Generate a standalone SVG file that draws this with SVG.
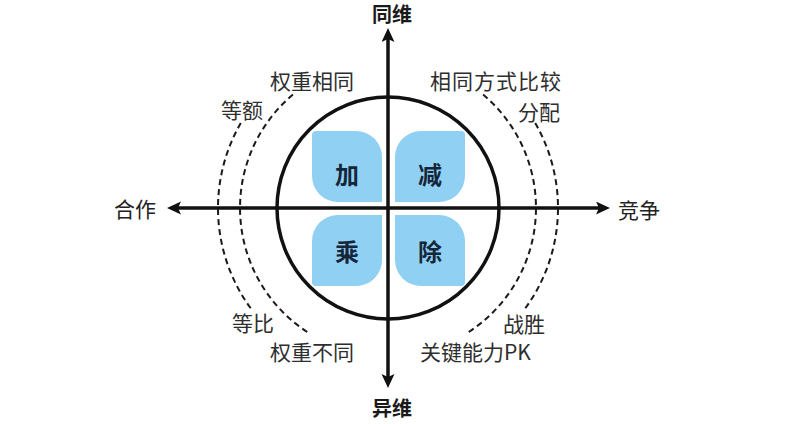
<svg xmlns="http://www.w3.org/2000/svg" width="800" height="424" viewBox="0 0 800 424">
<style>
.lbl{font-family:"Noto Sans CJK SC","Noto Sans",sans-serif;font-size:21px;fill:#2e2e2e}
.ax{font-family:"Noto Sans CJK SC","Noto Sans",sans-serif;font-size:20px;fill:#1a1a1a;font-weight:bold;text-anchor:middle}
.side{font-family:"Noto Sans CJK SC","Noto Sans",sans-serif;font-size:21px;fill:#222;text-anchor:middle}
.op{font-family:"Noto Sans CJK SC","Noto Sans",sans-serif;font-size:24px;fill:#15263a;font-weight:bold;text-anchor:middle}
.blk{fill:#90d1f3}
.axis{stroke:#111;stroke-width:3.5;fill:none}
.dash{stroke:#1a1a1a;stroke-width:2;fill:none;stroke-dasharray:6 4}
</style>
<defs>
<marker id="ah" markerUnits="userSpaceOnUse" markerWidth="16" markerHeight="14" refX="8" refY="6.5" orient="auto-start-reverse" viewBox="0 0 16 14">
<path d="M0,0 L14,6.5 L0,13 L3,6.5 Z" fill="#111"/>
</marker>
</defs>
<rect width="800" height="424" fill="#ffffff"/>
<g id="quad-add"><path class="blk" d="M316 131 H356 A26 26 0 0 1 382 157 V202 H338 A26 26 0 0 1 312 176 V135 A4 4 0 0 1 316 131 Z"/><text class="op" x="347" y="184">加</text></g>
<g id="quad-sub"><path class="blk" d="M421 131 H461 A4 4 0 0 1 465 135 V176 A26 26 0 0 1 439 202 H395 V157 A26 26 0 0 1 421 131 Z"/><text class="op" x="430" y="184">减</text></g>
<g id="quad-mul"><path class="blk" d="M338 215 H382 V260 A26 26 0 0 1 356 286 H316 A4 4 0 0 1 312 282 V241 A26 26 0 0 1 338 215 Z"/><text class="op" x="347" y="261">乘</text></g>
<g id="quad-div"><path class="blk" d="M395 215 H439 A26 26 0 0 1 465 241 V282 A4 4 0 0 1 461 286 H421 A26 26 0 0 1 395 260 Z"/><text class="op" x="430" y="261">除</text></g>
<g id="connectors">
<circle class="axis" cx="388" cy="208" r="111" stroke-width="4"/>
<line class="axis" x1="388" y1="34" x2="388" y2="382" marker-start="url(#ah)" marker-end="url(#ah)"/>
<line class="axis" x1="173" y1="208" x2="604" y2="208" marker-start="url(#ah)" marker-end="url(#ah)"/>
<path class="dash" d="M240.8 123 A170 170 0 0 0 252.2 310.3"/>
<path class="dash" d="M292.9 94.6 A148 148 0 0 0 309.6 333.5"/>
<path class="dash" d="M535.2 123 A170 170 0 0 1 523.8 310.3"/>
<path class="dash" d="M483.1 94.6 A148 148 0 0 1 466.4 333.5"/>
</g>
<g id="axis-labels">
<text class="ax" x="392" y="22">同维</text>
<text class="ax" x="392" y="416">异维</text>
<text class="side" x="135" y="217">合作</text>
<text class="side" x="639" y="218">竞争</text>
</g>
<g id="arc-labels">
<text class="lbl" x="270" y="89">权重相同</text>
<text class="lbl" x="430" y="89" letter-spacing="1">相同方式比较</text>
<text class="lbl" x="221" y="118">等额</text>
<text class="lbl" x="518" y="120">分配</text>
<text class="lbl" x="232" y="331">等比</text>
<text class="lbl" x="270" y="360">权重不同</text>
<text class="lbl" x="503" y="332">战胜</text>
<text class="lbl" x="420" y="360">关键能力PK</text>
</g>
</svg>
